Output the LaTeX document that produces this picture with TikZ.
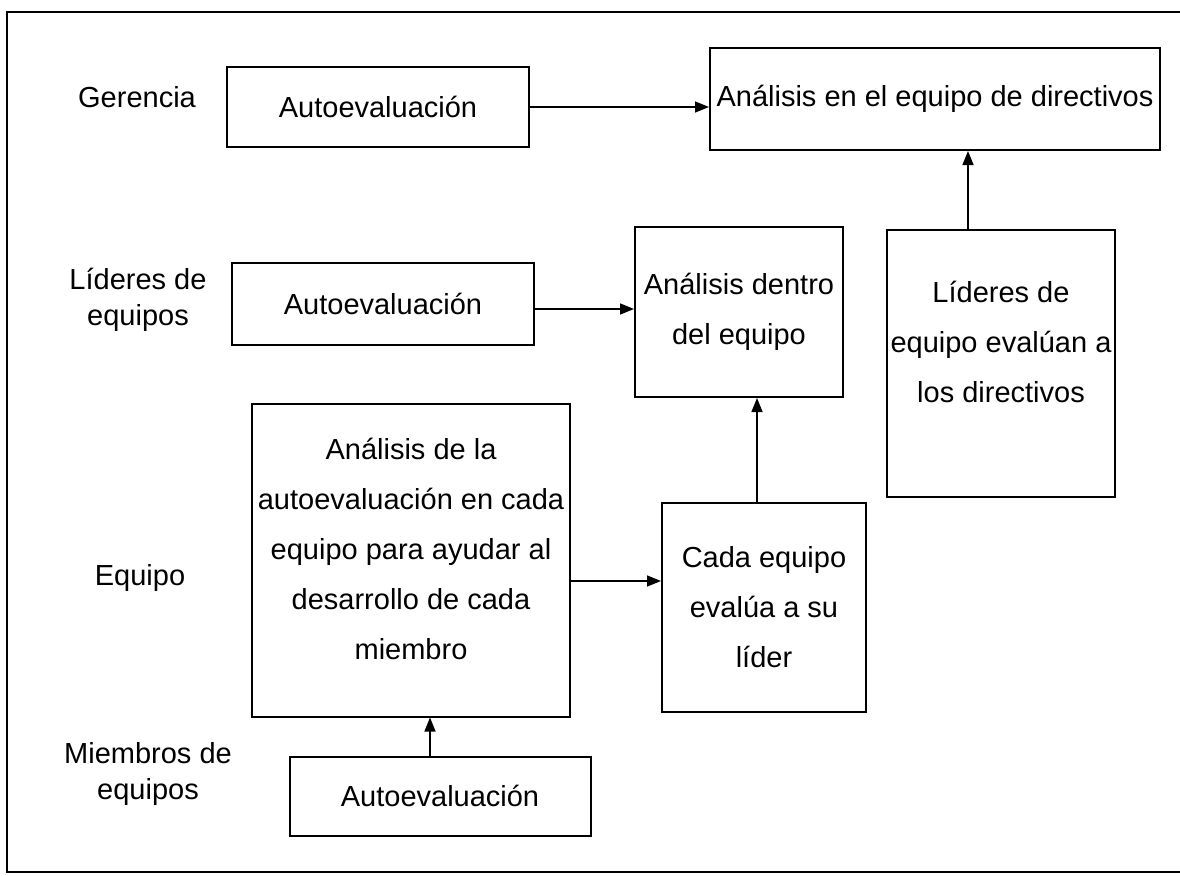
\documentclass[tikz,border=0pt]{standalone}
\usepackage{fontspec}
\setmainfont{Liberation Sans}
\usetikzlibrary{arrows.meta}
\tikzset{
    box/.style={draw, line width=2pt, inner sep=0pt, align=center, font=\fontsize{29}{50}\selectfont},
    side/.style={align=center, font=\fontsize{29}{36}\selectfont},
    arr/.style={-{Triangle[length=14pt,width=11pt]}, line width=1.5pt}
}

\begin{document}
\begin{tikzpicture}[x=1pt,y=-1pt]
        \useasboundingbox (0,0) rectangle (1180,875);
        % outer frame
        \draw[line width=2pt] (1180,12) -- (7,12) -- (7,872) -- (1180,872);
        % levels
        \node[side] (ger) at (137,97) {Gerencia};
        \node[side] (lid) at (138,300) {Líderes de\\equipos};
        \node[side] (equ) at (140,578) {Equipo};
        \node[side] (mie) at (148,774) {Miembros de\\equipos};
        % top row
        \node[box, minimum width=302, minimum height=80] (gerAuto) at (378,107) {Autoevaluación};
        \node[box, minimum width=450, minimum height=102] (dirAna) at (935,99) {Análisis en el equipo de directivos};
        % middle row
        \node[box, minimum width=302, minimum height=82] (lidAuto) at (383,304) {Autoevaluación};
        \node[box, minimum width=208, minimum height=170] (equAna) at (739,312) {Análisis dentro\\del equipo};
        \node[box, minimum width=228, minimum height=267, text depth=42pt] (lidEval) at (1001,363) {Líderes de\\equipo evalúan a\\los directivos};
        % bottom rows
        \node[box, minimum width=318, minimum height=313, text depth=22pt] (bigAna) at (411,560) {Análisis de la\\autoevaluación en cada\\equipo para ayudar al\\desarrollo de cada\\miembro};
        \node[box, minimum width=204, minimum height=209] (cadaEval) at (764,607) {Cada equipo\\evalúa a su\\líder};
        \node[box, minimum width=301, minimum height=79] (memAuto) at (440,796) {Autoevaluación};
        % arrows
        \draw[arr] (gerAuto.east) -- (gerAuto.east -| dirAna.west);
        \draw[arr] ([yshift=-5pt]lidAuto.east) -- ([yshift=-5pt]lidAuto.east -| equAna.west);
        \draw[arr] ([yshift=-21pt]bigAna.east) -- ([yshift=-21pt]bigAna.east -| cadaEval.west);
        \draw[arr] ([xshift=-7pt]cadaEval.north) -- ([xshift=-7pt]cadaEval.north |- equAna.south);
        \draw[arr] ([xshift=-33pt]lidEval.north) -- ([xshift=-33pt]lidEval.north |- dirAna.south);
        \draw[arr] ([xshift=-10pt]memAuto.north) -- ([xshift=-10pt]memAuto.north |- bigAna.south);
\end{tikzpicture}
\end{document}
